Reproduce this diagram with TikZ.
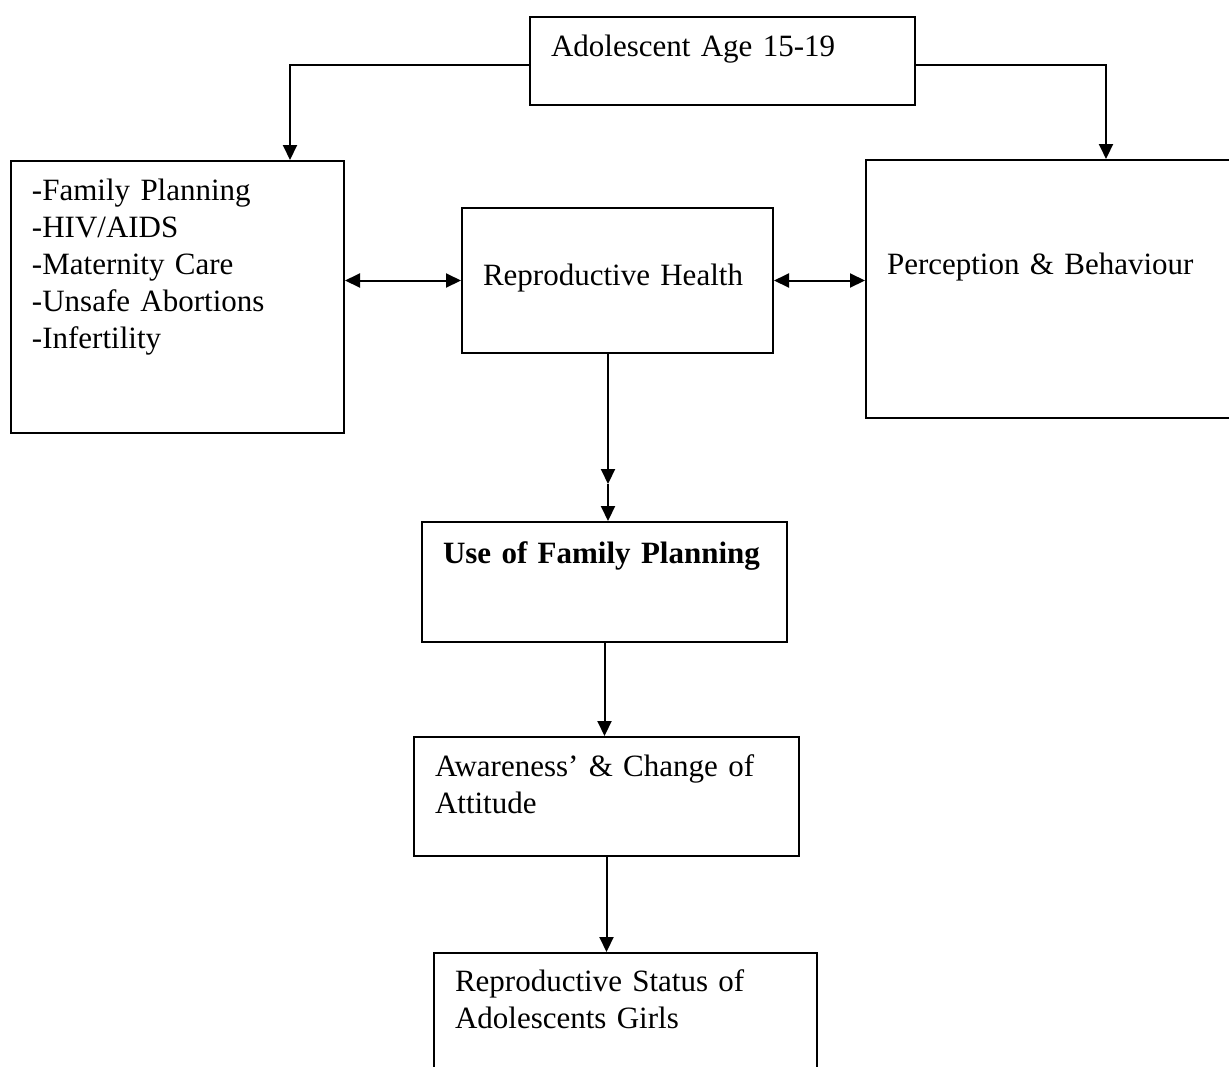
\documentclass[tikz,border=0pt]{standalone}
\usepackage{fontspec}
\setmainfont{Liberation Serif}
\usetikzlibrary{arrows.meta}
\hyphenpenalty=10000

\begin{document}
\begin{tikzpicture}[x=0.5pt, y=-0.5pt,
    box/.style={draw, line width=1pt, anchor=north west, align=left,
      inner xsep=10.5pt, inner ysep=0pt,
      font=\fontsize{15.5}{18.5}\selectfont},
    arr/.style={line width=1pt, -{Triangle[length=7.5pt,width=7pt]}},
    twoway/.style={line width=1pt,
      {Triangle[length=7.5pt,width=7pt]}-{Triangle[length=7.5pt,width=7pt]}}]
    \useasboundingbox (0,0) rectangle (1229,1066);
    \clip (0,0) rectangle (1229,1066);
    % boxes
    \node[box, text width=171.5pt, text height=19.5pt, text depth=24.5pt] (age) at (529,16) {Adolescent Age 15-19};
    \node[box, text width=145.5pt, text height=19.5pt, text depth=116.5pt] (plan) at (10,160)
      {-Family Planning\\-HIV/AIDS\\-Maternity Care\\-Unsafe Abortions\\-Infertility};
    \node[box, text width=134.5pt, text height=38.5pt, text depth=34pt] (rh) at (461,207) {Reproductive Health};
    \node[box, text width=171.5pt, text height=57pt, text depth=72pt] (pb) at (865,159) {Perception \& Behaviour};
    \node[box, text width=161.5pt, text height=20.5pt, text depth=39.5pt] (use) at (421,521) {\textbf{Use of Family Planning}};
    \node[box, text width=171.5pt, text height=19.5pt, text depth=40pt] (aware) at (413,736) {Awareness’ \& Change of\\Attitude};
    \node[box, text width=170.5pt, text height=19pt, text depth=51pt] (status) at (433,952) {Reproductive Status of\\Adolescents Girls};
    \coordinate (rh mid) at (608,484);
    % connectors
    \draw[arr] ([yshift=-2pt]age.west) -| ([xshift=-27.5pt]plan.north east);
    \draw[arr] ([yshift=-2pt]age.east) -| ([xshift=120.5pt]pb.north west);
    \draw[twoway] (plan.east |- rh.west) -- (rh.west);
    \draw[twoway] (rh.east) -- (pb.west |- rh.east);
    \draw[arr] (rh.south -| rh mid) -- (rh mid);
    \draw[arr] (rh mid) -- (use.north -| rh mid);
    \draw[arr] (use.south) -- (use.south |- aware.north);
    \draw[arr] (aware.south) -- (aware.south |- status.north);
\end{tikzpicture}
\end{document}
